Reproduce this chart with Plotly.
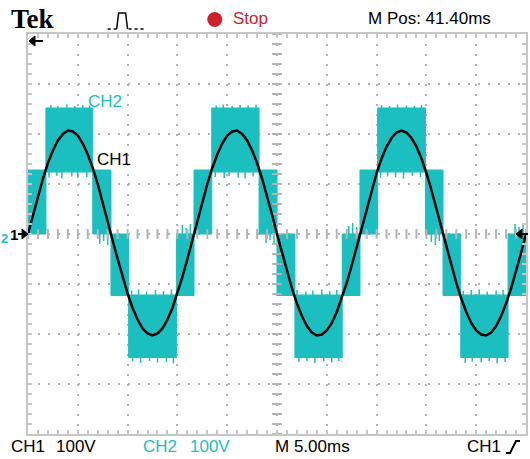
import plotly.graph_objects as go

# ---- acquisition data -------------------------------------------------
SAMPLE_MS = 0.5  # CH1 sample interval (ms)

# CH1: output voltage (V), one sample every 0.5 ms, 0..50 ms
ch1_volts = [
    0, 39, 76, 111, 142, 167, 187, 200, 207, 205,
    197, 181, 159, 132, 100, 64, 26, -13, -50, -86,
    -119, -148, -171, -189, -199, -203, -199, -189, -171, -148,
    -119, -86, -50, -13, 26, 64, 100, 132, 159, 181,
    197, 205, 207, 200, 187, 167, 142, 111, 76, 39,
    0, -38, -75, -109, -139, -164, -184, -197, -203, -201,
    -193, -178, -156, -129, -98, -63, -25, 13, 51, 88,
    122, 151, 175, 192, 203, 207, 203, 192, 175, 151,
    122, 88, 51, 13, -25, -63, -98, -129, -156, -178,
    -193, -201, -203, -197, -184, -164, -139, -109, -75, -38,
    0,
]

# CH2: multilevel inverter output, switching between two adjacent levels
# in each interval -> drawn as a filled band (start ms, end ms, low V, high V)
ch2_start = [0.0, 1.8, 6.5, 8.33, 10.1, 14.9, 16.67, 18.45, 23.2,
             25.0, 26.8, 31.55, 33.33, 35.1, 39.9, 41.67, 43.45, 48.2]
ch2_end = [1.8, 6.5, 8.33, 10.1, 14.9, 16.67, 18.45, 23.2, 25.0,
           26.8, 31.55, 33.33, 35.1, 39.9, 41.67, 43.45, 48.2, 50.0]
ch2_low = [0, 124, 0, -123, -247, -123, 0, 124, 0,
           -123, -247, -123, 0, 124, 0, -123, -247, -123]
ch2_high = [128, 252, 128, 0, -122, 0, 128, 252, 128,
            0, -122, 0, 128, 252, 128, 0, -122, 0]

# CH2 switching spikes overshooting the band edges (ms, from V, to V)
spike_t = [
    # positive upper blocks, top edge
    2.3, 3.0, 3.9, 4.7, 5.5, 6.2, 18.9, 19.6, 20.5, 21.3, 22.1, 22.9,
    35.5, 36.3, 37.1, 38.0, 38.8, 39.5,
    # positive upper blocks, lower edge
    2.1, 2.9, 3.4, 4.4, 5.0, 5.9, 18.8, 19.7, 20.2, 21.1, 21.8, 22.6,
    35.4, 36.1, 36.9, 37.7, 38.6, 39.4,
    # negative lower blocks, bottom edge
    10.5, 11.3, 12.2, 13.0, 13.9, 14.6, 27.2, 28.0, 28.8, 29.7, 30.5, 31.2,
    43.9, 44.6, 45.5, 46.3, 47.1, 47.9,
    # negative lower blocks, upper edge
    10.4, 11.1, 11.9, 12.8, 13.6, 14.4, 27.0, 27.9, 28.6, 29.5, 30.3, 31.0,
    43.7, 44.5, 45.3, 46.1, 47.0, 47.7,
    # zero-level overshoot at the end of each half cycle
    7.2, 7.6, 8.0, 23.9, 24.3, 24.7, 40.5, 40.9, 41.3,
    15.5, 15.9, 16.3, 32.2, 32.6, 33.0, 48.9, 49.3, 49.7,
]
spike_from = (
    [252] * 18 + [124] * 18 + [-247] * 18 + [-122] * 18
    + [0] * 9 + [0] * 9
)
spike_to = [
    258, 256, 259, 256, 258, 257, 257, 259, 256, 258, 257, 259,
    258, 256, 259, 257, 256, 258,
    113, 116, 111, 115, 112, 114, 114, 112, 116, 113, 111, 115,
    112, 115, 113, 111, 116, 114,
    -255, -258, -254, -257, -256, -259, -256, -254, -258, -255, -257, -254,
    -258, -255, -257, -254, -259, -256,
    -113, -111, -115, -112, -114, -111, -112, -115, -113, -111, -114, -112,
    -114, -112, -111, -115, -113, -112,
    -20, -14, -22, -18, -12, -20, -16, -22, -14,
    18, 12, 20, 16, 22, 14, 20, 14, 18,
]

# ---- styling ----------------------------------------------------------
TEAL = "#1CBFBF"
RED = "#CC2229"
GRID = "#b4b4b4"
FRAME = "#c6c6c6"
FONT = "Liberation Sans, Arial, sans-serif"

W, H = 530, 459
L, R, T, B = 28, 2, 34, 25
PW, PH = W - L - R, H - T - B


def px(x):
    return (x - L) / PW


def py(y):
    return (T + PH - y) / PH


fig = go.Figure()

# CH2 band
bx, by = [], []
for s, e, lo, hi in zip(ch2_start, ch2_end, ch2_low, ch2_high):
    bx += [s, e, e, s, s, None]
    by += [lo, lo, hi, hi, lo, None]
fig.add_trace(go.Scatter(
    x=bx, y=by, mode="lines", fill="toself", fillcolor=TEAL,
    line=dict(color=TEAL, width=1), hoverinfo="skip", showlegend=False))

# CH2 spikes
sx, sy = [], []
for t, a, b in zip(spike_t, spike_from, spike_to):
    sx += [t, t, None]
    sy += [a, b, None]
fig.add_trace(go.Scatter(
    x=sx, y=sy, mode="lines", line=dict(color=TEAL, width=1.5),
    hoverinfo="skip", showlegend=False))

# centre graticule dashes
fig.add_trace(go.Scatter(
    x=[i for i in range(0, 51)], y=[0] * 51, mode="markers",
    marker=dict(symbol="line-ns", size=7, line=dict(color=GRID, width=2)),
    hoverinfo="skip", showlegend=False))
fig.add_trace(go.Scatter(
    x=[25] * 41, y=[v for v in range(-400, 401, 20)], mode="markers",
    marker=dict(symbol="line-ew", size=7, line=dict(color=GRID, width=2)),
    hoverinfo="skip", showlegend=False))

# CH1 trace
t1 = [i * SAMPLE_MS for i in range(len(ch1_volts))]
fig.add_trace(go.Scatter(
    x=t1, y=ch1_volts, mode="lines", line=dict(color="black", width=2.5),
    hoverinfo="skip", showlegend=False))

axis_common = dict(
    showgrid=True, gridcolor=GRID, griddash="2px,8px", gridwidth=2,
    zeroline=False, showticklabels=False,
    showline=True, linecolor=FRAME, linewidth=2, mirror="allticks",
    ticks="inside", ticklen=4, tickcolor=FRAME, tickwidth=1.5,
)
fig.update_xaxes(range=[0, 50], tick0=0, dtick=5,
                 minor=dict(dtick=1, ticks="inside", ticklen=4,
                            tickcolor=FRAME, tickwidth=1.5, showgrid=False),
                 **axis_common)
fig.update_yaxes(range=[-400, 400], tick0=0, dtick=100,
                 minor=dict(dtick=20, ticks="inside", ticklen=4,
                            tickcolor=FRAME, tickwidth=1.5, showgrid=False),
                 **axis_common)

ann = []


def text(x, y, s, color="black", size=17, family=FONT, xanchor="left"):
    ann.append(dict(x=px(x), y=py(y), xref="paper", yref="paper", text=s,
                    showarrow=False, xanchor=xanchor, yanchor="middle",
                    font=dict(color=color, size=size, family=family)))


# header
text(9, 19, "<b>Tek</b>", size=27, family="Liberation Serif, Times New Roman, serif")
text(232, 19, "Stop", color=RED)
text(367, 19, "M Pos: 41.40ms")
# footer
text(9, 446, "CH1")
text(54, 446, "100V")
text(141, 446, "CH2", color=TEAL)
text(189, 446, "100V", color=TEAL)
text(274, 446, "M 5.00ms")
text(467, 446, "CH1")
# trace labels
text(86, 101, "CH2", color=TEAL)
text(95, 160, "CH1")
# ground markers
text(-1, 238, "<b>2</b>", color=TEAL, size=13)
text(8, 234, "<b>1</b>", size=15)

shapes = []


def path(d, color="black", width=2, fill=None, dash="solid"):
    xs = dict(type="path", path=d, xref="paper", yref="paper",
              line=dict(color=color, width=width, dash=dash))
    if fill:
        xs["fillcolor"] = fill
    shapes.append(xs)


def P(x, y):
    return f"{px(x):.5f},{py(y):.5f}"


# trigger-type icon
path(f"M{P(108,29)} L{P(117,29)}", width=1.5, dash="dot")
path(f"M{P(117,29)} L{P(119,13)} L{P(126,13)} L{P(128,29)}", width=1.5)
path(f"M{P(129,29)} L{P(144,29)}", width=1.5, dash="dot")
# stop dot
shapes.append(dict(type="circle", xref="paper", yref="paper",
                   x0=px(208), x1=px(223), y0=py(27), y1=py(12),
                   fillcolor=RED, line=dict(color=RED, width=0)))
# trigger slope symbol
path(f"M{P(508,453)} L{P(512,453)} L{P(518,441)} L{P(522,441)}", width=2)
# CH1 ground arrow (pointing right)
path(f"M{P(18,234)} L{P(24,234)}", width=2)
path(f"M{P(22,229)} L{P(28,234)} L{P(22,239)} Z", width=1, fill="black")
# trigger position arrow (top-left, pointing left)
path(f"M{P(34,41)} L{P(43,41)}", width=2)
path(f"M{P(35,36)} L{P(29,41)} L{P(35,46)} Z", width=1, fill="black")
# trigger level arrow (right edge, pointing left)
path(f"M{P(523,234)} L{P(530,234)}", width=2)
path(f"M{P(524,229)} L{P(518,234)} L{P(524,239)} Z", width=1, fill="black")

fig.update_layout(
    width=W, height=H, margin=dict(l=L, r=R, t=T, b=B),
    paper_bgcolor="white", plot_bgcolor="white",
    annotations=ann, shapes=shapes, showlegend=False,
)

fig.write_html("out.html")
